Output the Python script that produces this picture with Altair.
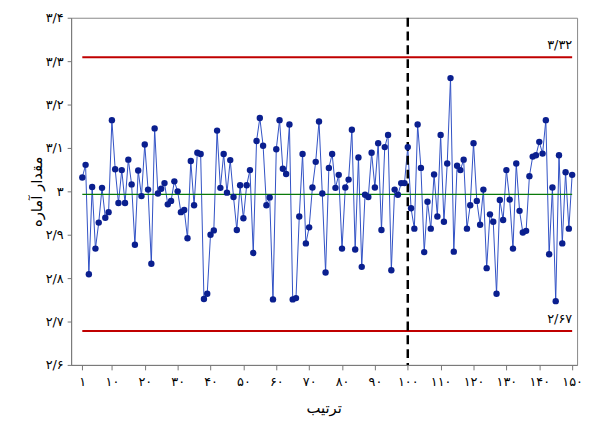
import altair as alt
import pandas as pd

values = [3.032, 3.061, 2.809, 3.010, 2.868, 2.928, 3.008, 2.939, 2.952, 3.164,
          3.051, 2.973, 3.049, 2.973, 3.073, 3.016, 2.877, 3.048, 2.989, 3.108,
          3.004, 2.833, 3.145, 2.995, 3.006, 3.019, 2.970, 2.978, 3.023, 3.000,
          2.952, 2.957, 2.892, 3.070, 2.968, 3.089, 3.086, 2.752, 2.764, 2.900,
          2.910, 3.140, 3.008, 3.086, 2.997, 3.072, 2.987, 2.911, 3.014, 2.938,
          3.014, 3.049, 2.858, 3.116, 3.169, 3.105, 2.968, 2.986, 2.751, 3.097,
          3.164, 3.052, 3.040, 3.154, 2.751, 2.754, 2.942, 3.086, 2.880, 2.917,
          3.009, 3.068, 3.161, 2.995, 2.813, 3.054, 3.086, 3.008, 3.038, 2.868,
          3.009, 3.027, 3.142, 2.866, 3.078, 2.826, 2.992, 2.987, 3.089, 3.009,
          3.111, 2.911, 3.102, 3.130, 2.818, 3.004, 2.992, 3.019, 3.019, 3.102,
          2.961, 2.914, 3.154, 3.054, 2.860, 2.976, 2.914, 3.039, 2.942, 3.130,
          2.930, 3.064, 3.261, 2.861, 3.059, 3.049, 3.073, 2.914, 2.968, 3.111,
          2.978, 2.923, 3.004, 2.823, 2.947, 2.930, 2.764, 2.980, 2.934, 3.049,
          2.981, 2.868, 3.064, 2.955, 2.905, 2.909, 3.035, 3.080, 3.083, 3.114,
          3.087, 3.164, 2.855, 3.009, 2.747, 3.083, 2.880, 3.044, 2.914, 3.038]
order = list(range(1, len(values) + 1))

# control limits as drawn in the reference (labelled 3.32 and 2.67)
ucl = 3.309
lcl = 2.678
center = 2.993
ucl_label = "۳/۳۲"
lcl_label = "۲/۶۷"
change_point = 100

x_ticks = [1, 10, 20, 30, 40, 50, 60, 70, 80, 90, 100, 110, 120, 130, 140, 150]
x_tick_labels = ["۱", "۱۰", "۲۰", "۳۰", "۴۰", "۵۰", "۶۰", "۷۰", "۸۰", "۹۰",
                 "۱۰۰", "۱۱۰", "۱۲۰", "۱۳۰", "۱۴۰", "۱۵۰"]
y_ticks = [2.6, 2.7, 2.8, 2.9, 3.0, 3.1, 3.2, 3.3, 3.4]
y_tick_labels = ["۲/۶", "۲/۷", "۲/۸", "۲/۹", "۳", "۳/۱", "۳/۲", "۳/۳", "۳/۴"]
x_title = "ترتیب"
y_title = "مقدار آماره"

FONT = "DejaVu Sans"


def label_expr(ticks, labels):
    parts = [f"abs(datum.value - {t}) < 0.0001 ? '{l}'" for t, l in zip(ticks, labels)]
    return " : ".join(parts) + " : ''"


df = pd.DataFrame({"order": order, "value": values})
limits = pd.DataFrame({"y": [ucl, lcl], "x1": [order[0]] * 2, "x2": [order[-1]] * 2})
center_df = pd.DataFrame({"y": [center], "x1": [order[0]], "x2": [order[-1]]})
labels_df = pd.DataFrame({"y": [ucl, lcl], "x": [order[-1]] * 2, "t": [ucl_label, lcl_label]})
change_df = pd.DataFrame({"x": [change_point]})

xs = alt.Scale(domain=[-2.4, 151.5], nice=False, zero=False)
ys = alt.Scale(domain=[2.6, 3.4], nice=False, zero=False)

x_axis = alt.Axis(values=x_ticks, tickCount=len(x_ticks) + 4,
                  labelExpr=label_expr(x_ticks, x_tick_labels),
                  title=x_title, grid=False, tickSize=5, labelFontSize=13,
                  titleFontSize=15, titleFontWeight="normal",
                  titleX=256, titleY=43, titleAlign="center", titleBaseline="middle",
                  labelFont=FONT, titleFont=FONT, domainColor="#777", tickColor="#777",
                  labelColor="#000", titleColor="#000", labelPadding=6,
                  labelOverlap=False, labelFontWeight="normal")
y_axis = alt.Axis(values=y_ticks, tickCount=len(y_ticks) + 4,
                  labelExpr=label_expr(y_ticks, y_tick_labels),
                  title=y_title, grid=False, tickSize=4, labelFontSize=13,
                  titleFontSize=15, titleFontWeight="normal",
                  titleX=-35, titleY=176, titleAlign="center", titleBaseline="middle",
                  labelFont=FONT, titleFont=FONT, domainColor="#777", tickColor="#777",
                  labelColor="#000", titleColor="#000", labelPadding=4,
                  labelOverlap=False, labelFontWeight="normal")

line = alt.Chart(df).mark_line(color="#2f4fc4", strokeWidth=1).encode(
    x=alt.X("order:Q", scale=xs, axis=x_axis),
    y=alt.Y("value:Q", scale=ys, axis=y_axis),
)
points = alt.Chart(df).mark_circle(size=42, color="#0a1f8f", opacity=1).encode(
    x=alt.X("order:Q", scale=xs),
    y=alt.Y("value:Q", scale=ys),
)
limit_rules = alt.Chart(limits).mark_rule(color="#c00000", strokeWidth=2).encode(
    x=alt.X("x1:Q", scale=xs), x2="x2:Q", y=alt.Y("y:Q", scale=ys)
)
center_rule = alt.Chart(center_df).mark_rule(color="#0a7a0a", strokeWidth=1.3).encode(
    x=alt.X("x1:Q", scale=xs), x2="x2:Q", y=alt.Y("y:Q", scale=ys)
)
change_rule = alt.Chart(change_df).mark_rule(color="#000", strokeWidth=2.5, strokeDash=[9, 5]).encode(
    x=alt.X("x:Q", scale=xs)
)
limit_text = alt.Chart(labels_df).mark_text(align="right", baseline="middle", dy=-12,
                                            fontSize=13, font=FONT, color="#000").encode(
    x=alt.X("x:Q", scale=xs), y=alt.Y("y:Q", scale=ys), text="t:N"
)

chart = alt.layer(line, limit_rules, center_rule, change_rule, points, limit_text).properties(
    width=513, height=352,
    autosize=alt.AutoSizeParams(type="none"),
    padding={"left": 64, "top": 7, "right": 6, "bottom": 56},
).configure_view(stroke="#888", strokeWidth=1).configure_axis(labelOverlap=False)

chart.save("out.html", embed_options={"renderer": "svg", "actions": False})
